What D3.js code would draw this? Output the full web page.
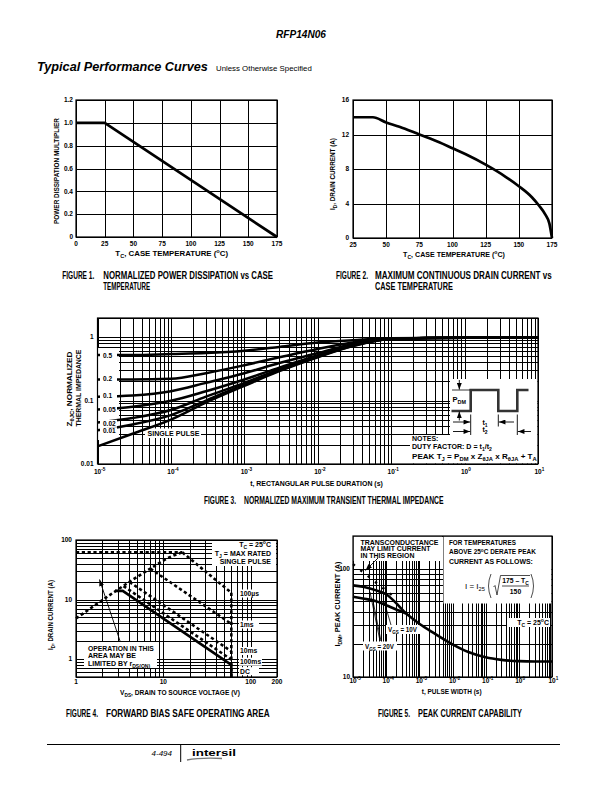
<!DOCTYPE html>
<html><head><meta charset="utf-8">
<script src="https://cdn.jsdelivr.net/npm/d3@7"></script>
<style>body{margin:0;background:#fff}svg{display:block}</style>
</head><body>
<script>
// ================= DATA =================
// Figure 1
const fig1Temp = [0, 25, 175];
const fig1Mult = [1.0, 1.0, 0.0];
const fig1XTicks = [0, 25, 50, 75, 100, 125, 150, 175];
const fig1YTicks = [0, 0.2, 0.4, 0.6, 0.8, 1.0, 1.2];
const fig1YLabels = ["0", "0.2", "0.4", "0.6", "0.8", "1.0", "1.2"];

// Figure 2
const fig2Temp = [25, 40, 50, 60, 75, 90, 100, 110, 125, 140, 150, 160, 165, 170, 173, 175];
const fig2Current = [14, 14, 13.4, 12.9, 12.0, 11.1, 10.4, 9.7, 8.5, 7.1, 6.0, 4.7, 3.8, 2.7, 1.7, 0];
const fig2XTicks = [25, 50, 75, 100, 125, 150, 175];
const fig2YTicks = [0, 4, 8, 12, 16];

// Figure 3
const fig3Time = [1e-5, 3e-5, 1e-4, 3e-4, 1e-3, 3e-3, 1e-2, 3e-2, 1e-1, 1, 10];
const fig3D05 = [0.52, 0.52, 0.54, 0.56, 0.61, 0.70, 0.82, 0.89, 0.96, 0.98, 0.98];
const fig3D02 = [0.215, 0.215, 0.22, 0.27, 0.36, 0.48, 0.65, 0.82, 0.95, 0.98, 0.98];
const fig3D01 = [0.115, 0.12, 0.14, 0.19, 0.27, 0.39, 0.56, 0.78, 0.94, 0.98, 0.98];
const fig3D005 = [0.072, 0.08, 0.099, 0.14, 0.215, 0.33, 0.52, 0.76, 0.94, 0.98, 0.98];
const fig3D002 = [0.045, 0.053, 0.071, 0.115, 0.19, 0.31, 0.50, 0.74, 0.93, 0.98, 0.98];
const fig3D001 = [0.034, 0.042, 0.059, 0.10, 0.18, 0.30, 0.49, 0.73, 0.93, 0.98, 0.98];
const fig3Single = [0.019, 0.030, 0.05, 0.093, 0.17, 0.29, 0.48, 0.72, 0.93, 0.98, 0.98];
const fig3DutyLabels = ["0.5", "0.2", "0.1", "0.05", "0.02", "0.01"];
const fig3XTicks = [1e-5, 1e-4, 1e-3, 1e-2, 1e-1, 1, 10];
const fig3XExp = ["-5", "-4", "-3", "-2", "-1", "0", "1"];
const fig3YTicks = [1, 0.1, 0.01];
const fig3YLabels = ["1", "0.1", "0.01"];

// Figure 4
const fig4RdsV = [1, 7.1, 12, 16.5];
const fig4RdsI = [4.8, 33, 52, 62];
const fig4IdmV = [1, 16.5];
const fig4IdmI = [62, 62];
const fig4P100usV = [16.5, 60];
const fig4P100usI = [62, 13];
const fig4P1msV = [7.1, 60];
const fig4P1msI = [33, 3.9];
const fig4P10msV = [4.1, 60];
const fig4P10msI = [19.7, 1.35];
const fig4P100msV = [3.5, 60];
const fig4P100msI = [16.8, 0.98];
const fig4DcV = [2.8, 3.43, 60, 60];
const fig4DcI = [14, 14, 0.8, 0.5];
const fig4VmaxV = [60, 60];
const fig4VmaxI = [13, 0.5];
const fig4XTicks = [1, 10, 100, 200];
const fig4YTicks = [1, 10, 100];
const fig4PulseLabels = ["100\u00B5s", "1ms", "10ms", "100ms", "DC"];

// Figure 5
const fig5TimeHi = [1e-5, 2e-5, 5e-5, 1e-4, 2e-4, 3e-4, 4e-4];
const fig5Vgs20 = [70, 68, 63, 58, 48, 42, 38.5];
const fig5Vgs10 = [55, 53, 50, 46, 42, 40, 38.5];
const fig5TimeLo = [4e-4, 1e-3, 3e-3, 1e-2, 3e-2, 1e-1, 3e-1, 1, 3, 10];
const fig5Common = [38.5, 31, 25, 20, 17, 15.2, 14.4, 14, 13.9, 13.9];
const fig5GmTime = [1e-5, 2e-4];
const fig5GmI = [110, 53];
const fig5XTicks = [1e-5, 1e-4, 1e-3, 1e-2, 1e-1, 1, 10];
const fig5XExp = ["-5", "-4", "-3", "-2", "-1", "0", "1"];
const fig5YTicks = [10, 100];

// ================= HELPERS =================
const FN = "'Liberation Sans',Arial,Helvetica,sans-serif";
const FA = "'Liberation Sans',Arial,Helvetica,sans-serif";
const svg = d3.select("body").append("svg").attr("width", 612).attr("height", 792);
svg.append("rect").attr("width", 612).attr("height", 792).attr("fill", "#fff");

const defs = svg.append("defs");
defs.append("marker").attr("id", "arr").attr("viewBox", "0 0 8 6").attr("refX", 8).attr("refY", 3)
  .attr("markerWidth", 7).attr("markerHeight", 5).attr("markerUnits", "userSpaceOnUse").attr("orient", "auto")
  .append("path").attr("d", "M0,0L8,3L0,6Z").attr("fill", "#000");

// text with sub/superscripts; optional len = target width (horizontal condensing by transform)
function rich(g, x, y, segs, o = {}) {
  const fs = o.fs || 7;
  const t = g.append("text").attr("x", x).attr("y", y).attr("font-size", fs)
    .attr("font-family", o.ff || FN).attr("font-weight", o.fw || "bold")
    .attr("text-anchor", o.anchor || "start").attr("fill", "#000");
  if (o.italic) t.attr("font-style", "italic");
  let shift = 0;
  segs.forEach(s => {
    if (typeof s === "string") s = { t: s };
    const target = s.sub ? fs * 0.3 : s.sup ? -fs * 0.4 : 0;
    const ts = t.append("tspan").attr("dy", target - shift).text(s.t);
    if (s.sub || s.sup) ts.attr("font-size", fs * 0.72);
    shift = target;
  });
  let sx = 1;
  if (o.len) {
    const w = t.node().getComputedTextLength();
    if (w > 0) sx = o.len / w;
  }
  if (o.len || o.rotate) {
    t.attr("x", 0).attr("y", 0)
      .attr("transform", `translate(${x},${y})${o.rotate ? " rotate(-90)" : ""} scale(${sx},1)`);
  }
  return t;
}
function logTicks(min, max) {
  const out = [];
  for (let e = Math.floor(Math.log10(min) - 1e-9); e <= Math.ceil(Math.log10(max)); e++)
    for (let m = 1; m < 10; m++) {
      const v = m * Math.pow(10, e);
      if (v >= min * (1 - 1e-9) && v <= max * (1 + 1e-9)) out.push(v);
    }
  return out;
}
function grid(g, x, y, xv, yv) {
  const [y0, y1] = y.range(), [x0, x1] = x.range();
  g.append("g").call(d3.axisBottom(x).tickValues(xv).tickSize(-(y0 - y1)).tickFormat(""))
    .attr("transform", `translate(0,${y0})`)
    .call(a => { a.select(".domain").remove(); a.selectAll("line").attr("stroke", "#000").attr("stroke-width", 1).attr("shape-rendering", "crispEdges"); });
  g.append("g").call(d3.axisLeft(y).tickValues(yv).tickSize(-(x1 - x0)).tickFormat(""))
    .attr("transform", `translate(${x0},0)`)
    .call(a => { a.select(".domain").remove(); a.selectAll("line").attr("stroke", "#000").attr("stroke-width", 1).attr("shape-rendering", "crispEdges"); });
}
function frame(g, x, y) {
  const [y0, y1] = y.range(), [x0, x1] = x.range();
  g.append("rect").attr("x", x0).attr("y", y1).attr("width", x1 - x0).attr("height", y0 - y1)
    .attr("fill", "none").attr("stroke", "#000").attr("stroke-width", 1.2);
}
function whiteBox(g, x, y, w, h) {
  g.append("rect").attr("x", x).attr("y", y).attr("width", w).attr("height", h).attr("fill", "#fff");
}
function curve(g, xs, ys, x, y, o = {}) {
  const pts = xs.map((v, i) => [v, ys[i]]);
  const ln = d3.line().x(d => x(d[0])).y(d => y(d[1])).curve(o.curve || d3.curveLinear);
  const p = g.append("path").attr("d", ln(pts)).attr("fill", "none").attr("stroke", o.color || "#000")
    .attr("stroke-width", o.w || 2.6).attr("stroke-linejoin", "round").attr("stroke-linecap", o.cap || "butt");
  if (o.dash) p.attr("stroke-dasharray", o.dash);
  return p;
}
function arrow(g, x1, y1, x2, y2, w) {
  g.append("line").attr("x1", x1).attr("y1", y1).attr("x2", x2).attr("y2", y2)
    .attr("stroke", "#000").attr("stroke-width", w || 0.9).attr("marker-end", "url(#arr)");
}
// caption: "FIGURE n." at x, remaining text lines starting at x2
function caption(g, x, y, num, x2, lines) {
  rich(g, x, y, ["FIGURE " + num + "."], { fs: 10, len: 32 });
  lines.forEach((l, i) => rich(g, x2, y + i * 11, [l[0]], { fs: 10, len: l[1] }));
}
function expLabel(g, xPos, y, exp) {
  return rich(g, xPos - 3.6, y, ["10", { t: exp, sup: true }], { fs: 6.5 });
}

// ================= HEADER =================
rich(svg, 301, 38, ["RFP14N06"], { fs: 11, ff: FA, anchor: "middle", italic: true, len: 50 });
rich(svg, 37, 71, ["Typical Performance Curves"], { fs: 12, ff: FA, italic: true, len: 171 });
rich(svg, 216, 71, ["Unless Otherwise Specified"], { fs: 7, ff: FA, fw: "normal", len: 96 });

// ================= FIGURE 1 =================
{
  const g = svg.append("g");
  const x = d3.scaleLinear([0, 175], [76, 277]);
  const y = d3.scaleLinear([0, 1.2], [237, 100]);
  grid(g, x, y, fig1XTicks, fig1YTicks);
  frame(g, x, y);
  curve(g, fig1Temp, fig1Mult, x, y, { w: 2.7 });
  fig1XTicks.forEach(v => rich(g, x(v), 245.5, [String(v)], { fs: 6.5, anchor: "middle" }));
  fig1YTicks.forEach((v, i) => rich(g, 73, y(v) + 2.3, [fig1YLabels[i]], { fs: 6.5, anchor: "end" }));
  rich(g, 171.7, 256, ["T", { t: "C", sub: true }, ", CASE TEMPERATURE (", { t: "o", sup: true }, "C)"], { fs: 7.5, anchor: "middle", len: 113 });
  rich(g, 58.5, 171, ["POWER DISSIPATION MULTIPLIER"], { fs: 6.8, anchor: "middle", rotate: true, len: 106 });
  caption(g, 62.3, 279, "1", 103.3, [["NORMALIZED POWER DISSIPATION vs CASE", 170], ["TEMPERATURE", 47]]);
}

// ================= FIGURE 2 =================
{
  const g = svg.append("g");
  const x = d3.scaleLinear([25, 175], [353, 552]);
  const y = d3.scaleLinear([0, 16], [238, 100]);
  grid(g, x, y, fig2XTicks, fig2YTicks);
  frame(g, x, y);
  curve(g, fig2Temp, fig2Current, x, y, { w: 2.7, curve: d3.curveMonotoneX });
  fig2XTicks.forEach(v => rich(g, x(v), 246.5, [String(v)], { fs: 6.5, anchor: "middle" }));
  fig2YTicks.forEach(v => rich(g, 349, y(v) + 2.3, [String(v)], { fs: 6.5, anchor: "end" }));
  rich(g, 454, 257, ["T", { t: "C", sub: true }, ", CASE TEMPERATURE (", { t: "o", sup: true }, "C)"], { fs: 7, anchor: "middle", len: 102 });
  rich(g, 335, 174, ["I", { t: "D", sub: true }, ", DRAIN CURRENT (A)"], { fs: 6.8, anchor: "middle", rotate: true, len: 72 });
  caption(g, 336, 279, "2", 375, [["MAXIMUM CONTINUOUS DRAIN CURRENT vs", 177], ["CASE TEMPERATURE", 78]]);
}

// ================= FIGURE 3 =================
{
  const g = svg.append("g");
  const x = d3.scaleLog([1e-5, 10], [97.5, 538]);
  const y = d3.scaleLog([0.01, 2], [464, 318]);
  grid(g, x, y, logTicks(1e-5, 10), logTicks(0.01, 2));
  whiteBox(g, 98, 348, 21, 92);
  whiteBox(g, 450, 379, 87.5, 57);
  whiteBox(g, 410, 435, 127.5, 28.5);
  whiteBox(g, 145, 428.5, 56, 9.5);
  frame(g, x, y);
  const series = [fig3D05, fig3D02, fig3D01, fig3D005, fig3D002, fig3D001, fig3Single];
  series.forEach(s => curve(g, fig3Time, s, x, y, { w: 2.5, curve: d3.curveMonotoneX }));
  const labY = [355.7, 378.7, 395.3, 409.3, 423.3, 430.7];
  fig3DutyLabels.forEach((l, i) => {
    whiteBox(g, 100, labY[i] - 3.5, 17, 7);
    rich(g, 103, labY[i] + 2.3, [l], { fs: 6.5 });
  });
  rich(g, 147.5, 436.3, ["SINGLE PULSE"], { fs: 7, len: 52 });
  fig3XTicks.forEach((v, i) => expLabel(g, x(v), 474, fig3XExp[i]));
  fig3YTicks.forEach((v, i) => rich(g, 93.5, y(v) + 2.3, [fig3YLabels[i]], { fs: 6.5, anchor: "end" }));
  rich(g, 316.5, 486, ["t, RECTANGULAR PULSE DURATION (s)"], { fs: 7.3, anchor: "middle", len: 133 });
  rich(g, 71.5, 389, ["Z", { t: "\u03B8JC", sub: true }, ", NORMALIZED"], { fs: 7, anchor: "middle", rotate: true, len: 75 });
  rich(g, 80.5, 388, ["THERMAL IMPEDANCE"], { fs: 7, anchor: "middle", rotate: true, len: 77 });
  caption(g, 204, 504, "3", 244, [["NORMALIZED MAXIMUM TRANSIENT THERMAL IMPEDANCE", 200]]);

  // inset waveform (schematic)
  const wave = [[451.5, 411], [470.7, 411], [470.7, 390], [498.3, 390], [498.3, 411], [517.3, 411], [517.3, 390], [528.5, 390]];
  g.append("path").attr("d", d3.line()(wave)).attr("fill", "none").attr("stroke", "#333").attr("stroke-width", 2.6);
  g.append("line").attr("x1", 452).attr("x2", 470).attr("y1", 390).attr("y2", 390).attr("stroke", "#000").attr("stroke-width", 0.8);
  arrow(g, 459.3, 380, 459.3, 389.5);
  arrow(g, 459.3, 420.5, 459.3, 411.5);
  rich(g, 452.5, 402, ["P", { t: "DM", sub: true }], { fs: 7.5 });
  [[470.7, 414.5, 435], [498.3, 414.5, 426.5], [517.3, 414.5, 435]].forEach(d =>
    g.append("line").attr("x1", d[0]).attr("x2", d[0]).attr("y1", d[1]).attr("y2", d[2]).attr("stroke", "#000").attr("stroke-width", 0.9));
  arrow(g, 453, 422, 470.2, 422);
  arrow(g, 514, 422, 498.8, 422);
  arrow(g, 453, 431.5, 470.2, 431.5);
  arrow(g, 531, 431.5, 517.8, 431.5);
  rich(g, 482.5, 424.5, ["t", { t: "1", sub: true }], { fs: 7 });
  rich(g, 482.5, 431.5, ["t", { t: "2", sub: true }], { fs: 7 });
  rich(g, 412, 441, ["NOTES:"], { fs: 7 });
  rich(g, 412, 449.3, ["DUTY FACTOR: D = t", { t: "1", sub: true }, "/t", { t: "2", sub: true }], { fs: 7, len: 80 });
  rich(g, 412, 459, ["PEAK T", { t: "J", sub: true }, " = P", { t: "DM", sub: true }, " x Z", { t: "\u03B8JA", sub: true }, " x R", { t: "\u03B8JA", sub: true }, " + T", { t: "A", sub: true }], { fs: 7, len: 125 });
}

// ================= FIGURE 4 =================
{
  const g = svg.append("g");
  const x = d3.scaleLog([1, 200], [76, 277]);
  const y = d3.scaleLog([0.5, 100], [677, 540]);
  grid(g, x, y, logTicks(1, 200), logTicks(0.5, 100));
  whiteBox(g, 212, 541, 64, 25);
  whiteBox(g, 84, 642, 73, 26);
  const labY = [593.5, 624.5, 651, 661.7, 671.2];
  fig4PulseLabels.forEach((l, i) => whiteBox(g, 239, labY[i] - 4, i === 3 ? 23 : 20, 8));
  frame(g, x, y);
  const dash = "3.2,2.6";
  curve(g, fig4IdmV, fig4IdmI, x, y, { dash, w: 2.6 });
  curve(g, fig4RdsV, fig4RdsI, x, y, { dash, w: 2.6, curve: d3.curveMonotoneX });
  curve(g, fig4P100usV, fig4P100usI, x, y, { dash, w: 2.6 });
  curve(g, fig4P1msV, fig4P1msI, x, y, { dash, w: 2.6 });
  curve(g, fig4P10msV, fig4P10msI, x, y, { dash, w: 2.6 });
  curve(g, fig4P100msV, fig4P100msI, x, y, { dash, w: 2.6 });
  curve(g, fig4VmaxV, fig4VmaxI, x, y, { dash, w: 2.6 });
  curve(g, fig4DcV, fig4DcI, x, y, { w: 2.6 });
  fig4PulseLabels.forEach((l, i) => rich(g, 240, labY[i] + 2.4, [l], { fs: 6.8 }));
  rich(g, 271, 547, ["T", { t: "C", sub: true }, " = 25", { t: "o", sup: true }, "C"], { fs: 7, anchor: "end" });
  rich(g, 271, 556, ["T", { t: "J", sub: true }, " = MAX RATED"], { fs: 7, anchor: "end" });
  rich(g, 271, 564, ["SINGLE PULSE"], { fs: 7, anchor: "end" });
  rich(g, 88, 650.5, ["OPERATION IN THIS"], { fs: 7, len: 66 });
  rich(g, 88, 658, ["AREA MAY BE"], { fs: 7 });
  rich(g, 88, 665.5, ["LIMITED BY r", { t: "DS(ON)", sub: true }], { fs: 7 });
  arrow(g, 120, 641, 99.5, 579.5, 0.9);
  fig4XTicks.forEach(v => rich(g, x(v), 684, [String(v)], { fs: 6.5, anchor: "middle" }));
  fig4YTicks.forEach(v => rich(g, 72, y(v) + 2.3, [String(v)], { fs: 6.5, anchor: "end" }));
  rich(g, 180, 694.5, ["V", { t: "DS", sub: true }, ", DRAIN TO SOURCE VOLTAGE (V)"], { fs: 7, anchor: "middle", len: 120 });
  rich(g, 52.5, 615, ["I", { t: "D", sub: true }, ", DRAIN CURRENT (A)"], { fs: 6.8, anchor: "middle", rotate: true, len: 70 });
  caption(g, 66, 717, "4", 106, [["FORWARD BIAS SAFE OPERATING AREA", 164]]);
}

// ================= FIGURE 5 =================
{
  const g = svg.append("g");
  const x = d3.scaleLog([1e-5, 10], [353, 552]);
  const y = d3.scaleLog([10, 200], [677, 536]);
  grid(g, x, y, logTicks(1e-5, 10), logTicks(10, 200));
  whiteBox(g, 353.5, 536.5, 88.5, 24.5);
  whiteBox(g, 443.5, 536.5, 108, 67);
  whiteBox(g, 507, 618, 43, 9);
  whiteBox(g, 386, 625, 34, 9);
  whiteBox(g, 363, 641.5, 34, 9);
  frame(g, x, y);
  curve(g, fig5TimeHi, fig5Vgs20, x, y, { w: 2.6, curve: d3.curveMonotoneX });
  curve(g, fig5TimeHi, fig5Vgs10, x, y, { w: 2.6, curve: d3.curveMonotoneX });
  curve(g, fig5TimeLo, fig5Common, x, y, { w: 2.6, curve: d3.curveMonotoneX });
  curve(g, fig5GmTime, fig5GmI, x, y, { w: 2.4, dash: "2.4,7" });
  rich(g, 360.5, 544.5, ["TRANSCONDUCTANCE"], { fs: 6.8, len: 78 });
  rich(g, 360.5, 551.3, ["MAY LIMIT CURRENT"], { fs: 6.8, len: 70 });
  rich(g, 360.5, 558.1, ["IN THIS REGION"], { fs: 6.8, len: 54 });
  arrow(g, 378, 558, 365.5, 570.5, 0.9);
  rich(g, 449, 544.5, ["FOR TEMPERATURES"], { fs: 7, len: 67 });
  rich(g, 449, 554.3, ["ABOVE 25", { t: "o", sup: true }, "C DERATE PEAK"], { fs: 7, len: 87 });
  rich(g, 449, 564, ["CURRENT AS FOLLOWS:"], { fs: 7, len: 84 });
  // formula
  rich(g, 465, 589, ["I  =  I", { t: "25", sub: true }], { fs: 8, fw: "normal", ff: FA });
  g.append("path").attr("d", "M491,574 Q486,586 491,598").attr("fill", "none").attr("stroke", "#000").attr("stroke-width", 0.7);
  g.append("path").attr("d", "M531,574 Q536,586 531,598").attr("fill", "none").attr("stroke", "#000").attr("stroke-width", 0.7);
  g.append("path").attr("d", "M493.5,587 L495,585.5 L497,595 L500.5,575.5 L530,575.5").attr("fill", "none").attr("stroke", "#000").attr("stroke-width", 0.7);
  g.append("line").attr("x1", 502).attr("x2", 529).attr("y1", 586).attr("y2", 586).attr("stroke", "#000").attr("stroke-width", 0.7);
  rich(g, 515.5, 583, ["175 \u2013 T", { t: "C", sub: true }], { fs: 6.8, anchor: "middle" });
  rich(g, 515.5, 594, ["150"], { fs: 6.8, anchor: "middle" });
  rich(g, 549, 625, ["T", { t: "C", sub: true }, " = 25", { t: "o", sup: true }, "C"], { fs: 7, anchor: "end" });
  rich(g, 388, 632, ["V", { t: "GS", sub: true }, " = 10V"], { fs: 7, len: 29 });
  rich(g, 365, 648.5, ["V", { t: "GS", sub: true }, " = 20V"], { fs: 7, len: 29 });
  [[391, 625, 384, 601], [380, 641, 370, 592], [381, 641, 373, 601]].forEach(d =>
    g.append("line").attr("x1", d[0]).attr("y1", d[1]).attr("x2", d[2]).attr("y2", d[3]).attr("stroke", "#000").attr("stroke-width", 0.8));
  fig5XTicks.forEach((v, i) => expLabel(g, x(v), 683, fig5XExp[i]));
  fig5YTicks.forEach(v => rich(g, 350, y(v) + 2.3, [String(v)], { fs: 6.5, anchor: "end" }));
  rich(g, 451.7, 693.5, ["t, PULSE WIDTH (s)"], { fs: 7, anchor: "middle", len: 60 });
  rich(g, 340, 604, ["I", { t: "DM", sub: true }, ", PEAK CURRENT (A)"], { fs: 6.8, anchor: "middle", rotate: true, len: 85 });
  caption(g, 378, 717, "5", 418, [["PEAK CURRENT CAPABILITY", 104]]);
}

// ================= FOOTER =================
svg.append("line").attr("x1", 47).attr("x2", 560).attr("y1", 744.5).attr("y2", 744.5).attr("stroke", "#000").attr("stroke-width", 1);
svg.append("line").attr("x1", 180.7).attr("x2", 180.7).attr("y1", 744.5).attr("y2", 762).attr("stroke", "#000").attr("stroke-width", 1);
rich(svg, 172, 756, ["4-494"], { fs: 8, ff: FA, fw: "normal", anchor: "end", italic: true });
rich(svg, 192, 756, ["intersil"], { fs: 9, ff: FA, len: 44 });
svg.append("path").attr("d", "M187,760 Q200,757.5 222,758.5").attr("fill", "none").attr("stroke", "#777").attr("stroke-width", 1.3);
</script>
</body></html>
